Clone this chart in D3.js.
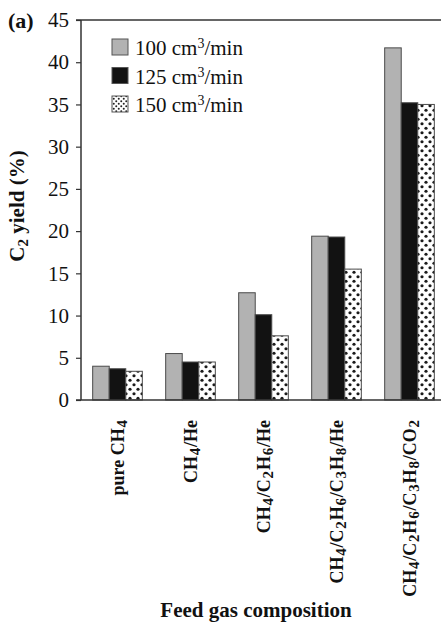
<!DOCTYPE html>
<html>
<head>
<meta charset="utf-8">
<script src="https://cdn.jsdelivr.net/npm/d3@7"></script>
<style>
  html, body { margin: 0; padding: 0; background: #fff; }
  svg { display: block; }
  text { font-family: "Liberation Serif", "Times New Roman", Times, serif; fill: #111; }
</style>
</head>
<body>
<script>
// ---- data ----
const categories = ["pure CH4", "CH4/He", "CH4/C2H6/He", "CH4/C2H6/C3H8/He", "CH4/C2H6/C3H8/CO2"];
const seriesNames = ["100", "125", "150"];
const flow100 = [4.0, 5.5, 12.7, 19.4, 41.7];
const flow125 = [3.7, 4.5, 10.1, 19.3, 35.2];
const flow150 = [3.4, 4.5, 7.6, 15.5, 35.0];
const yTicks = [0, 5, 10, 15, 20, 25, 30, 35, 40, 45];
// label parts: [text, isSubscript]
const labelParts = [
  [["pure CH", 0], ["4", 1]],
  [["CH", 0], ["4", 1], ["/He", 0]],
  [["CH", 0], ["4", 1], ["/C", 0], ["2", 1], ["H", 0], ["6", 1], ["/He", 0]],
  [["CH", 0], ["4", 1], ["/C", 0], ["2", 1], ["H", 0], ["6", 1], ["/C", 0], ["3", 1], ["H", 0], ["8", 1], ["/He", 0]],
  [["CH", 0], ["4", 1], ["/C", 0], ["2", 1], ["H", 0], ["6", 1], ["/C", 0], ["3", 1], ["H", 0], ["8", 1], ["/CO", 0], ["2", 1]]
];

const W = 441, H = 624;
const mLeft = 81, mRight = 446, mTop = 20, mBottom = 400;

const svg = d3.select("body").append("svg").attr("width", W).attr("height", H);

// pattern for dotted bars
const defs = svg.append("defs");
const pat = defs.append("pattern").attr("id", "dots").attr("patternUnits", "userSpaceOnUse")
  .attr("width", 8).attr("height", 9);
pat.append("rect").attr("width", 8).attr("height", 9).attr("fill", "#fff");
pat.append("circle").attr("cx", 2).attr("cy", 2.25).attr("r", 1.6).attr("fill", "#1a1a1a");
pat.append("circle").attr("cx", 6).attr("cy", 6.75).attr("r", 1.6).attr("fill", "#1a1a1a");
const patS = defs.append("pattern").attr("id", "dotsSmall").attr("patternUnits", "userSpaceOnUse")
  .attr("width", 5).attr("height", 5);
patS.append("rect").attr("width", 5).attr("height", 5).attr("fill", "#fff");
patS.append("circle").attr("cx", 1.25).attr("cy", 1.25).attr("r", 1).attr("fill", "#222");
patS.append("circle").attr("cx", 3.75).attr("cy", 3.75).attr("r", 1).attr("fill", "#222");

const fills = ["#b2b2b2", "#121212", "url(#dots)"];
const legendFills = ["#b2b2b2", "#121212", "url(#dotsSmall)"];

const x0 = d3.scaleBand().domain(categories).range([mLeft, mRight]).paddingInner(0.32).paddingOuter(0.16);
const x1 = d3.scaleBand().domain(seriesNames).range([0, x0.bandwidth()]);
const y = d3.scaleLinear().domain([0, 45]).range([mBottom, mTop]);

const series = [flow100, flow125, flow150];

// bars
const g = svg.append("g");
categories.forEach((c, i) => {
  seriesNames.forEach((s, j) => {
    g.append("rect")
      .attr("x", x0(c) + x1(s))
      .attr("y", y(series[j][i]))
      .attr("width", x1.bandwidth())
      .attr("height", y(0) - y(series[j][i]))
      .attr("fill", fills[j])
      .attr("stroke", "#4a4a4a")
      .attr("stroke-width", 1);
  });
});

// y axis
const yAxis = d3.axisLeft(y).tickValues(yTicks).tickSize(5).tickPadding(7);
const ya = svg.append("g").attr("transform", `translate(${mLeft},0)`).call(yAxis);
ya.select(".domain").remove();
ya.selectAll(".tick line").attr("stroke", "#333").attr("stroke-width", 1.2);
ya.selectAll(".tick text").style("font-size", "21px").attr("fill", "#111");

// frame lines
svg.append("line").attr("x1", mLeft).attr("x2", mLeft).attr("y1", mTop).attr("y2", mBottom)
  .attr("stroke", "#333").attr("stroke-width", 1.5);
svg.append("line").attr("x1", mLeft - 5).attr("x2", mRight).attr("y1", mBottom).attr("y2", mBottom)
  .attr("stroke", "#333").attr("stroke-width", 1.5);
svg.append("line").attr("x1", mLeft - 5).attr("x2", mRight).attr("y1", mTop).attr("y2", mTop)
  .attr("stroke", "#333").attr("stroke-width", 1.5);

// x labels (rotated)
categories.forEach((c, i) => {
  const cx = x0(c) + x0.bandwidth() / 2;
  const t = svg.append("text")
    .attr("transform", `translate(${cx + 6},420) rotate(-90)`)
    .attr("text-anchor", "end")
    .style("font-size", "18px")
    .attr("font-weight", "bold");
  let shifted = false;
  labelParts[i].forEach(([txt, sub]) => {
    const ts = t.append("tspan").text(txt);
    if (sub) {
      ts.style("font-size", "15px").attr("dy", 3).attr("dx", 0.8);
      shifted = true;
    } else if (shifted) {
      ts.attr("dy", -3).attr("dx", 0.8);
      shifted = false;
    }
  });
});

// y title
const yt = svg.append("text")
  .attr("transform", "translate(24,206) rotate(-90)")
  .attr("text-anchor", "middle")
  .style("font-size", "21px").attr("font-weight", "bold");
yt.append("tspan").text("C");
yt.append("tspan").text("2").style("font-size", "15px").attr("dy", 4);
yt.append("tspan").text(" yield (%)").attr("dy", -4);

// x title
svg.append("text").attr("x", 256).attr("y", 617).attr("text-anchor", "middle")
  .style("font-size", "21px").attr("font-weight", "bold").text("Feed gas composition");

// panel label
svg.append("text").attr("x", 8).attr("y", 28).style("font-size", "22px").attr("font-weight", "bold").text("(a)");

// legend
const legendLabels = ["100", "125", "150"];
legendLabels.forEach((lab, j) => {
  const ly = 39 + j * 28.5;
  svg.append("rect").attr("x", 112).attr("y", ly).attr("width", 16).attr("height", 16)
    .attr("fill", legendFills[j]).attr("stroke", "#555").attr("stroke-width", 1);
  const t = svg.append("text").attr("x", 135).attr("y", ly + 16).style("font-size", "21px");
  t.append("tspan").text(lab + " cm");
  t.append("tspan").text("3").style("font-size", "14px").attr("dy", -7);
  t.append("tspan").text("/min").attr("dy", 7);
});
</script>
</body>
</html>
